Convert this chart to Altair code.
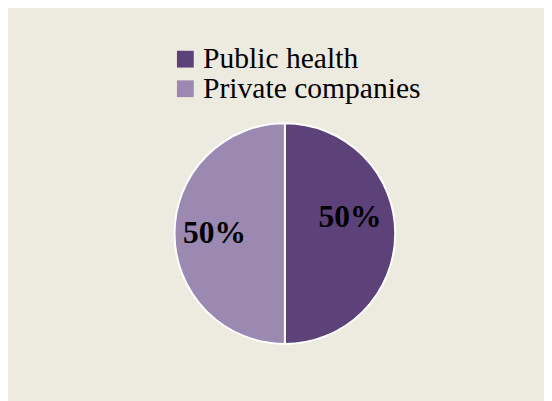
import altair as alt
import pandas as pd

categories = ["Public health", "Private companies"]
shares = [50, 50]
labels = ["50%", "50%"]
order = [0, 1]

df = pd.DataFrame({"Category": categories, "Share": shares, "Label": labels, "Order": order})

colors = ["#5C4279", "#9B89B2"]
SERIF = "Liberation Serif"
CX, CY = 281, 226

base = alt.Chart(df).encode(
    theta=alt.Theta("Share:Q", stack=True),
    order=alt.Order("Order:Q"),
)

arc = base.mark_arc(outerRadius=112, stroke="white", strokeWidth=2).encode(
    color=alt.Color(
        "Category:N",
        sort=categories,
        scale=alt.Scale(domain=categories, range=colors),
        legend=alt.Legend(
            title=None,
            orient="none",
            legendX=165,
            legendY=34,
            symbolType="square",
            symbolSize=290,
            symbolStrokeWidth=0,
            labelFont=SERIF,
            labelFontSize=30,
            labelColor="black",
            labelOffset=3,
            rowPadding=-1,
            labelLimit=400,
        ),
    ),
    x=alt.value(CX),
    y=alt.value(CY),
)

txt_kwargs = dict(radius=70, font=SERIF, fontWeight="bold", fontSize=32,
                  color="black", align="center", baseline="middle")

txt_right = base.mark_text(dx=-4, dy=-16.5, **txt_kwargs).encode(
    text=alt.condition(alt.datum.Category == "Public health", alt.Text("Label:N"), alt.value("")),
    x=alt.value(CX),
    y=alt.value(CY),
)
txt_left = base.mark_text(dx=-1.5, dy=-0.5, **txt_kwargs).encode(
    text=alt.condition(alt.datum.Category == "Private companies", alt.Text("Label:N"), alt.value("")),
    x=alt.value(CX),
    y=alt.value(CY),
)

chart = alt.layer(arc, txt_right, txt_left).properties(
    width=544,
    height=393,
    autosize=alt.AutoSizeParams(type="none"),
    padding=0,
    background="#EDEADF",
).configure_view(stroke=None)

chart.save("out.html", embed_options={"renderer": "svg", "actions": False})
